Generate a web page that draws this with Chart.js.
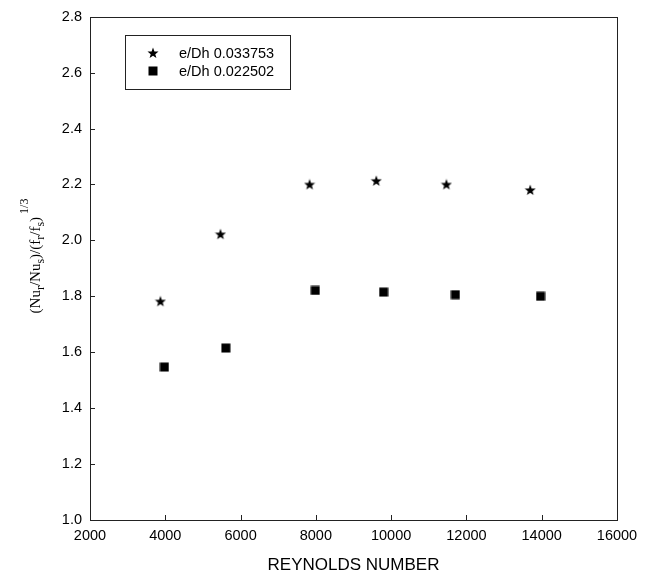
<!DOCTYPE html>
<html>
<head>
<meta charset="utf-8">
<script src="https://cdn.jsdelivr.net/npm/chart.js@4.4.1/dist/chart.umd.min.js"></script>
<style>
  html, body { margin: 0; padding: 0; background: #fff; }
  #chart { display: block; }
</style>
</head>
<body>
<canvas id="chart" width="651" height="573"></canvas>
<script>
// data
var seriesNames = ['e/Dh 0.033753', 'e/Dh 0.022502'];
var reStar = [3870, 5466, 7834, 9606, 11468, 13694];
var ratioStar = [1.782, 2.022, 2.200, 2.213, 2.200, 2.180];
var reSquare = [3976, 5609, 7984, 9800, 11708, 13968];
var ratioSquare = [1.547, 1.615, 1.821, 1.815, 1.806, 1.800];
var xTitle = 'REYNOLDS NUMBER';

var sansFont = "'Liberation Sans', Arial, sans-serif";
var serifFont = "'Liberation Serif', 'Times New Roman', serif";

function makeStar() {
    var c = document.createElement('canvas');
    c.width = 12; c.height = 12;
    var g = c.getContext('2d');
    g.fillStyle = '#000';
    g.beginPath();
    for (var i = 0; i < 10; i++) {
        var r = (i % 2 == 0) ? 5.8 : 2.4;
        var a = -Math.PI / 2 + i * Math.PI / 5;
        var px = 6 + r * Math.cos(a), py = 6.4 + r * Math.sin(a);
        if (i == 0) g.moveTo(px, py); else g.lineTo(px, py);
    }
    g.closePath();
    g.fill();
    return c;
}

function makeSquare() {
    var c = document.createElement('canvas');
    c.width = 10; c.height = 10;
    var g = c.getContext('2d');
    g.fillStyle = '#000';
    g.fillRect(0.5, 0.5, 9, 9);
    return c;
}

var starImg = makeStar();
var squareImg = makeSquare();

function toPoints(xs, ys) {
    var out = [];
    for (var i = 0; i < xs.length; i++) out.push({x: xs[i], y: ys[i]});
    return out;
}

// frame, inward ticks, titles and legend
var decor = {
    id: 'decor',
    afterDraw: function(chart) {
        var c = chart.ctx;
        var a = chart.chartArea;
        var xs = chart.scales.x, ys = chart.scales.y;
        c.save();
        c.strokeStyle = '#222';
        c.lineWidth = 1;
        c.strokeRect(Math.round(a.left) + 0.5, Math.round(a.top) + 0.5,
            Math.round(a.right - a.left), Math.round(a.bottom - a.top));

        c.beginPath();
        xs.ticks.forEach(function(t) {
            var px = Math.round(xs.getPixelForValue(t.value)) + 0.5;
            c.moveTo(px, a.bottom);
            c.lineTo(px, a.bottom - 5);
        });
        ys.ticks.forEach(function(t) {
            var py = Math.round(ys.getPixelForValue(t.value)) + 0.5;
            c.moveTo(a.left, py);
            c.lineTo(a.left + 5, py);
        });
        c.stroke();

        // x title
        c.fillStyle = '#000';
        c.font = '17px ' + sansFont;
        c.textAlign = 'center';
        c.textBaseline = 'alphabetic';
        c.fillText(xTitle, (a.left + a.right) / 2, 570);

        // y title with subscripts and exponent
        var parts = [
            ['(Nu', 0], ['r', 1], ['/Nu', 0], ['s', 1], [')/(f', 0], ['r', 1],
            ['/f', 0], ['s', 1], [')', 0], ['1/3', 2]
        ];
        var main = '15px ' + serifFont, small = '12px ' + serifFont;
        var total = 0;
        parts.forEach(function(p) {
            c.font = p[1] ? small : main;
            total += c.measureText(p[0]).width + (p[1] == 2 ? 3 : 0);
        });
        c.translate(40, 256);
        c.rotate(-Math.PI / 2);
        c.textAlign = 'left';
        var cx = -total / 2;
        parts.forEach(function(p) {
            c.font = p[1] ? small : main;
            var dy = p[1] == 1 ? 4 : (p[1] == 2 ? -12 : 0);
            if (p[1] == 2) cx += 3;
            c.fillText(p[0], cx, dy);
            cx += c.measureText(p[0]).width;
        });
        c.restore();

        // legend box
        c.save();
        c.strokeStyle = '#222';
        c.lineWidth = 1;
        c.strokeRect(125.5, 35.5, 165, 54);
        c.font = '14.5px ' + sansFont;
        c.fillStyle = '#000';
        c.textBaseline = 'middle';
        c.textAlign = 'left';
        var imgs = [starImg, squareImg];
        for (var i = 0; i < seriesNames.length; i++) {
            var ly = 53 + i * 18;
            c.drawImage(imgs[i], 153 - imgs[i].width / 2, ly - imgs[i].height / 2);
            c.fillText(seriesNames[i], 179, ly + 0.5);
        }
        c.restore();
    }
};

var ctx = document.getElementById('chart').getContext('2d');
var chart = new Chart(ctx, {
    type: 'scatter',
    data: {
        datasets: [{
            label: seriesNames[0],
            data: toPoints(reStar, ratioStar),
            pointStyle: starImg,
            pointRadius: 6
        }, {
            label: seriesNames[1],
            data: toPoints(reSquare, ratioSquare),
            pointStyle: squareImg,
            pointRadius: 5
        }]
    },
    options: {
        responsive: false,
        animation: false,
        layout: { padding: { left: 0, top: 15, right: 34, bottom: 0 } },
        plugins: {
            legend: { display: false },
            tooltip: { enabled: false }
        },
        scales: {
            x: {
                type: 'linear',
                min: 2000, max: 16000,
                afterFit: function(s) { s.height = 53; },
                grid: { display: false, drawTicks: false },
                border: { display: false },
                ticks: {
                    stepSize: 2000,
                    padding: 7,
                    color: '#000',
                    font: { family: sansFont, size: 14.5 },
                    maxRotation: 0,
                    callback: function(v) { return String(v); }
                }
            },
            y: {
                type: 'linear',
                min: 1.0, max: 2.8,
                afterFit: function(s) { s.width = 90; },
                grid: { display: false, drawTicks: false },
                border: { display: false },
                ticks: {
                    stepSize: 0.2,
                    padding: 8,
                    color: '#000',
                    font: { family: sansFont, size: 14.5 },
                    callback: function(v) { return v.toFixed(1); }
                }
            }
        }
    },
    plugins: [decor]
});
</script>
</body>
</html>
